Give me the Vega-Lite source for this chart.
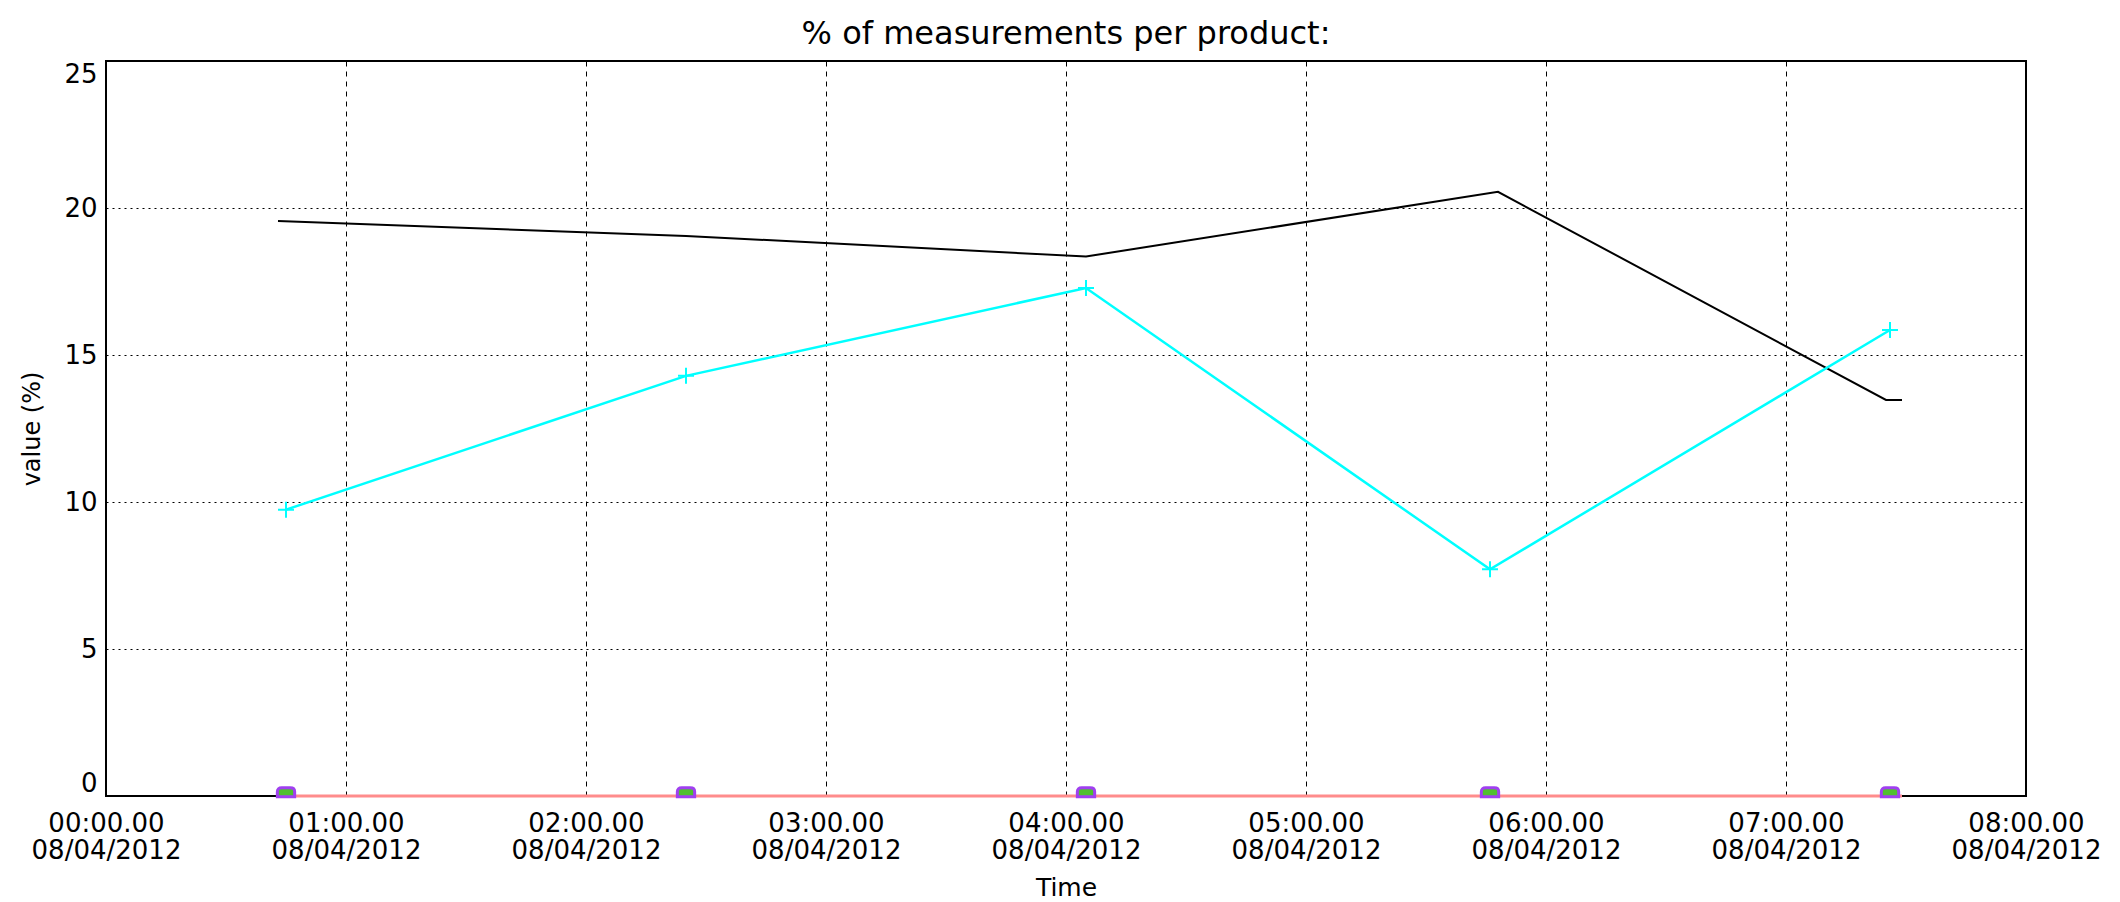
{
  "$schema": "https://vega.github.io/schema/vega-lite/v6.json",
  "width": 1920,
  "height": 735,
  "autosize": "none",
  "padding": {"left": 106, "top": 61, "right": 94, "bottom": 106},
  "background": "white",
  "config": {
    "font": "DejaVu Sans",
    "view": {"stroke": "black", "strokeWidth": 2},
    "axis": {"domain": false, "ticks": false, "labelColor": "black", "titleColor": "black", "labelFont": "DejaVu Sans", "titleFont": "DejaVu Sans", "titleFontWeight": "normal", "gridColor": "black", "gridOpacity": 1, "gridWidth": 1}
  },
  "title": {"text": "% of measurements per product:", "fontSize": 32, "fontWeight": "normal", "color": "black", "anchor": "middle", "offset": 10, "font": "DejaVu Sans"},
  "datasets": {
    "black": [
      {"Time": "2012-04-08T00:43:00Z", "value": 19.56},
      {"Time": "2012-04-08T02:25:00Z", "value": 19.05},
      {"Time": "2012-04-08T04:05:00Z", "value": 18.35},
      {"Time": "2012-04-08T05:48:00Z", "value": 20.55},
      {"Time": "2012-04-08T07:25:00Z", "value": 13.47},
      {"Time": "2012-04-08T07:29:00Z", "value": 13.47}
    ],
    "cyan": [
      {"Time": "2012-04-08T00:45:00Z", "value": 9.74},
      {"Time": "2012-04-08T02:25:00Z", "value": 14.29},
      {"Time": "2012-04-08T04:05:00Z", "value": 17.28},
      {"Time": "2012-04-08T05:46:00Z", "value": 7.71},
      {"Time": "2012-04-08T07:26:00Z", "value": 15.85}
    ],
    "zero": [
      {"Time": "2012-04-08T00:43:00Z", "value": 0},
      {"Time": "2012-04-08T02:25:00Z", "value": 0},
      {"Time": "2012-04-08T04:05:00Z", "value": 0},
      {"Time": "2012-04-08T05:46:00Z", "value": 0},
      {"Time": "2012-04-08T07:29:00Z", "value": 0}
    ],
    "zeromarks": [
      {"Time": "2012-04-08T00:45:00Z", "value": 0},
      {"Time": "2012-04-08T02:25:00Z", "value": 0},
      {"Time": "2012-04-08T04:05:00Z", "value": 0},
      {"Time": "2012-04-08T05:46:00Z", "value": 0},
      {"Time": "2012-04-08T07:26:00Z", "value": 0}
    ]
  },
  "encoding": {
    "x": {
      "field": "Time", "type": "temporal",
      "scale": {"type": "utc", "domain": [{"year": 2012, "month": 4, "date": 8, "hours": 0, "utc": true}, {"year": 2012, "month": 4, "date": 8, "hours": 8, "utc": true}], "nice": false},
      "axis": {
        "title": "Time", "titleFontSize": 25, "titlePadding": 12,
        "values": [
          {"year": 2012, "month": 4, "date": 8, "hours": 0, "utc": true},
          {"year": 2012, "month": 4, "date": 8, "hours": 1, "utc": true},
          {"year": 2012, "month": 4, "date": 8, "hours": 2, "utc": true},
          {"year": 2012, "month": 4, "date": 8, "hours": 3, "utc": true},
          {"year": 2012, "month": 4, "date": 8, "hours": 4, "utc": true},
          {"year": 2012, "month": 4, "date": 8, "hours": 5, "utc": true},
          {"year": 2012, "month": 4, "date": 8, "hours": 6, "utc": true},
          {"year": 2012, "month": 4, "date": 8, "hours": 7, "utc": true},
          {"year": 2012, "month": 4, "date": 8, "hours": 8, "utc": true}
        ],
        "labelExpr": "[utcFormat(datum.value, '%H:%M.%S'), utcFormat(datum.value, '%d/%m/%Y')]",
        "labelFontSize": 26, "labelLineHeight": 27, "labelPadding": 14, "labelFlush": false, "labelOverlap": false,
        "grid": true, "gridDash": [5, 5]
      }
    },
    "y": {
      "field": "value", "type": "quantitative",
      "scale": {"domain": [0, 25], "nice": false, "zero": false},
      "axis": {
        "title": "value (%)", "titleFontSize": 24, "titlePadding": 19,
        "values": [0, 5, 10, 15, 20, 25],
        "labelFontSize": 26, "labelPadding": 9, "labelFlush": true,
        "grid": true, "gridDash": [2, 4]
      }
    }
  },
  "layer": [
    {"data": {"name": "black"}, "mark": {"type": "line", "color": "black", "strokeWidth": 2}},
    {"data": {"name": "cyan"}, "mark": {"type": "line", "color": "#00ffff", "strokeWidth": 2.5,
      "point": {"shape": "M-1,0L1,0M0,-1L0,1", "filled": false, "size": 256, "strokeWidth": 2, "color": "#00ffff", "opacity": 1}}},
    {"data": {"name": "zero"}, "mark": {"type": "line", "color": "#ff8c8c", "strokeWidth": 3}},
    {"data": {"name": "zeromarks"}, "mark": {"type": "point", "shape": "M-1,0.1L-1,-0.5Q-1,-0.95 -0.5,-0.95L0.5,-0.95Q1,-0.95 1,-0.5L1,0.1Z", "filled": true, "fill": "#50c030", "stroke": "#a040f0", "size": 300, "strokeWidth": 3, "opacity": 1}}
  ]
}
